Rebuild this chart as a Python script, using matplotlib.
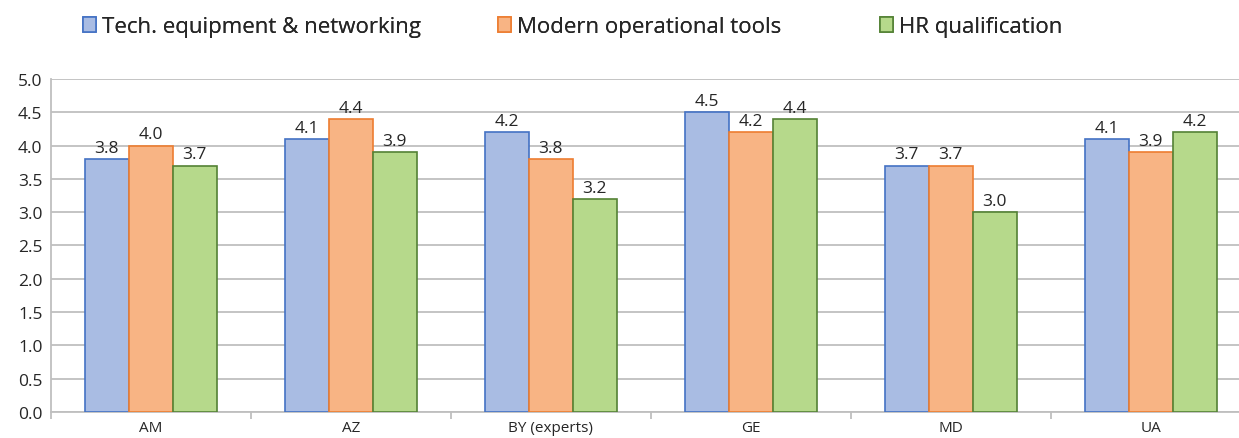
import numpy as np
import matplotlib.pyplot as plt
from matplotlib.patches import Patch

categories = ["AM", "AZ", "BY (experts)", "GE", "MD", "UA"]
series_names = ["Tech. equipment & networking", "Modern operational tools", "HR qualification"]
tech = [3.8, 4.1, 4.2, 4.5, 3.7, 4.1]
tools = [4.0, 4.4, 3.8, 4.2, 3.7, 3.9]
hr = [3.7, 3.9, 3.2, 4.4, 3.0, 4.2]

fills = ["#A9BCE3", "#F8B484", "#B6D98B"]
edges = ["#4472C4", "#ED7D31", "#548235"]

plt.rcParams['font.family'] = ['Open Sans', 'DejaVu Sans']

fig = plt.figure(figsize=(12.39, 4.39), dpi=100)
# plot area runs slightly past the right edge, as in the cropped original
ax = fig.add_axes([0.041, 0.059, 0.9685, 0.759])

x = np.arange(len(categories))
w = 0.22
for i, vals in enumerate([tech, tools, hr]):
    ax.bar(x + (i - 1) * w, vals, w, color=fills[i], edgecolor=edges[i],
           linewidth=1.2, zorder=3, label=series_names[i])
    for xi, v in zip(x + (i - 1) * w, vals):
        ax.text(xi, v + 0.05, f"{v:.1f}", ha='center', va='bottom',
                fontsize=12.5, color='#262626', zorder=4)

ax.set_xlim(-0.5, len(categories) - 0.5)
ax.set_ylim(0, 5.0)
yt = np.arange(0, 5.01, 0.5)
ax.set_yticks(yt)
ax.set_yticklabels([f"{t:.1f}" for t in yt], fontsize=12.5, color='#262626')
ax.yaxis.grid(True, color='#BFBFBF', linewidth=1.3, zorder=0)
ax.tick_params(axis='y', length=0, pad=6)

ax.set_xticks(x)
ax.set_xticklabels(categories, fontsize=11, color='#262626')
ax.tick_params(axis='x', length=0, pad=6)
ax.set_xticks(np.arange(-0.5, len(categories), 1.0), minor=True)
ax.tick_params(axis='x', which='minor', length=5, color='#BFBFBF', width=1.3)

for s in ['top', 'right']:
    ax.spines[s].set_visible(False)
for s in ['left', 'bottom']:
    ax.spines[s].set_color('#BFBFBF')
    ax.spines[s].set_linewidth(1.3)

# legend entries placed one by one to match the spacing of the original
legend_x = [0.067, 0.402, 0.71]
for i in range(3):
    h = Patch(facecolor=fills[i], edgecolor=edges[i], linewidth=1.2)
    leg = fig.legend(handles=[h], labels=[series_names[i]], loc='center left',
                     bbox_to_anchor=(legend_x[i], 0.937), frameon=False, fontsize=16,
                     handlelength=0.6, handleheight=0.7, handletextpad=0.25,
                     borderaxespad=0, borderpad=0, labelcolor='#262626')
    fig.add_artist(leg)

fig.savefig("out.png", dpi=100)
